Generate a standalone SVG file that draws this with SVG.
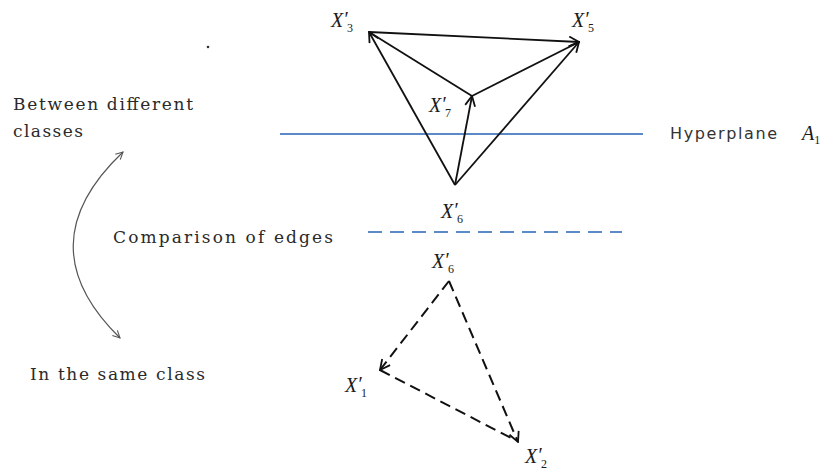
<svg xmlns="http://www.w3.org/2000/svg" width="826" height="474" viewBox="0 0 826 474">
<defs>
<style>
.lbl{font-family:"Liberation Serif","Times New Roman",serif;font-style:italic;font-size:20px;fill:#1a1a1a}
.s{font-style:normal;font-size:12px}
.txt{font-family:"DejaVu Serif","Liberation Serif",serif;font-size:17px;fill:#2a2a2a}
.sans{font-family:"DejaVu Sans","Liberation Sans",sans-serif;font-size:16px;fill:#333}
.edge{stroke:#111;stroke-width:1.8;fill:none}
.dash{stroke:#111;stroke-width:2;fill:none;stroke-dasharray:11 6}
.blue{stroke:#5b8ac6;stroke-width:2;fill:none}
</style>
<marker id="ah" viewBox="0 0 12 12" refX="11" refY="6" markerWidth="12" markerHeight="12" markerUnits="userSpaceOnUse" orient="auto">
<path d="M1,1 L11,6 L1,11" fill="none" stroke="#111" stroke-width="1.8"/>
</marker>
<marker id="ahg" viewBox="0 0 10 10" refX="9" refY="5" markerWidth="9" markerHeight="9" markerUnits="userSpaceOnUse" orient="auto-start-reverse">
<path d="M1,1 L9,5 L1,9" fill="none" stroke="#555" stroke-width="1.2"/>
</marker>
</defs>
<rect width="826" height="474" fill="#fff"/>

<g id="hyperplane">
<line class="blue" x1="280" y1="134" x2="643" y2="134"/>
<text class="sans" x="670" y="139" textLength="107">Hyperplane</text>
<text class="lbl" x="802" y="140" font-size="18">A<tspan class="s" font-size="10" dy="4">1</tspan></text>
</g>
<g id="divider">
<line class="blue" x1="368" y1="232" x2="622" y2="232" stroke-dasharray="14 8"/>
</g>

<g id="connectors">
<line class="edge" x1="369" y1="32" x2="579" y2="42" marker-end="url(#ah)"/>
<line class="edge" x1="369" y1="32" x2="472" y2="96"/>
<line class="edge" x1="472" y1="96" x2="579" y2="42"/>
<line class="edge" x1="455" y1="185" x2="369" y2="32" marker-end="url(#ah)"/>
<line class="edge" x1="455" y1="185" x2="472" y2="96" marker-end="url(#ah)"/>
<line class="edge" x1="455" y1="185" x2="579" y2="42" marker-end="url(#ah)"/>
<line class="dash" x1="449" y1="281" x2="380" y2="370" marker-end="url(#ah)"/>
<line class="dash" x1="449" y1="281" x2="518" y2="442" marker-end="url(#ah)"/>
<line class="dash" x1="380" y1="370" x2="515" y2="440"/>
<path d="M123,152 Q25,245 120,338" fill="none" stroke="#555" stroke-width="1.2" marker-start="url(#ahg)" marker-end="url(#ahg)"/>
</g>

<g id="X3"><text class="lbl" x="331" y="27">X<tspan dy="-1">′</tspan><tspan class="s" x="347" dy="6">3</tspan></text></g>
<g id="X5"><text class="lbl" x="572" y="27">X<tspan dy="-1">′</tspan><tspan class="s" x="588" dy="6">5</tspan></text></g>
<g id="X7"><text class="lbl" x="429" y="112">X<tspan dy="-1">′</tspan><tspan class="s" x="445" dy="6">7</tspan></text></g>
<g id="X6top"><text class="lbl" x="441" y="218">X<tspan dy="-1">′</tspan><tspan class="s" x="457" dy="6">6</tspan></text></g>
<g id="X6bottom"><text class="lbl" x="432" y="268">X<tspan dy="-1">′</tspan><tspan class="s" x="448" dy="6">6</tspan></text></g>
<g id="X1"><text class="lbl" x="345" y="392">X<tspan dy="-1">′</tspan><tspan class="s" x="361" dy="6">1</tspan></text></g>
<g id="X2"><text class="lbl" x="525" y="463">X<tspan dy="-1">′</tspan><tspan class="s" x="541" dy="6">2</tspan></text></g>

<g id="labels">
<text class="txt" x="13" y="110" textLength="180">Between different</text>
<text class="txt" x="13" y="137" textLength="70">classes</text>
<text class="txt" x="113" y="243" textLength="220">Comparison of edges</text>
<text class="txt" x="30" y="380" textLength="175">In the same class</text>
</g>
<circle cx="208" cy="47" r="1.3" fill="#333"/>
</svg>
